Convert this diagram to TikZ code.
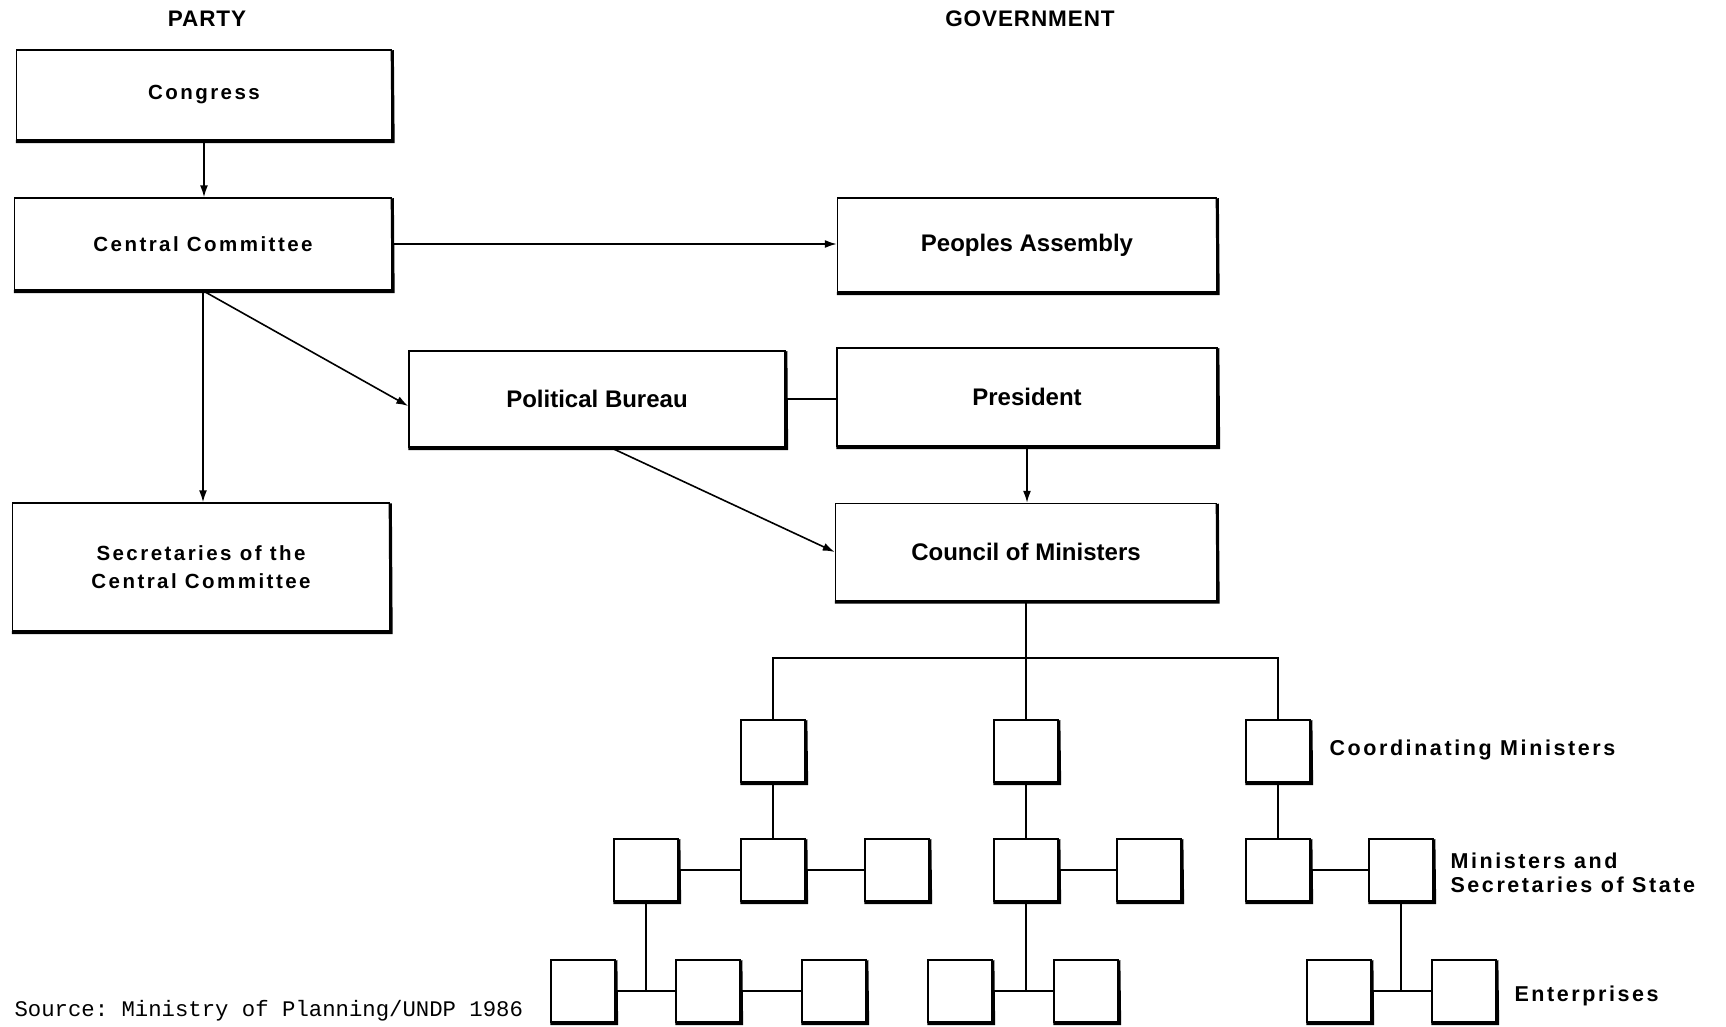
\documentclass[tikz,border=0pt]{standalone}
\usepackage{fontspec}
\setmainfont{Liberation Sans}
\setmonofont{Liberation Mono}
\newfontfamily\partyfont[LetterSpace=12]{Liberation Sans}
\newfontfamily\labelfont[LetterSpace=12]{Liberation Sans}
\newfontfamily\headfont[LetterSpace=4]{Liberation Sans}
\usetikzlibrary{arrows.meta,calc}
\begin{document}
\begin{tikzpicture}[x=1pt,y=-1pt,
  pbox/.style={draw, line width=1.5pt, inner sep=0pt, align=center,
    font=\fontsize{20.5}{28}\selectfont\partyfont\bfseries},
  gbox/.style={draw, line width=1.5pt, inner sep=0pt, align=center,
    font=\fontsize{24}{28}\selectfont\bfseries},
  sq/.style={draw, line width=1.5pt, minimum width=64pt, minimum height=62pt, inner sep=0pt},
  head/.style={font=\fontsize{22.5}{26}\selectfont\headfont\bfseries},
  lab/.style={anchor=west, align=left, font=\fontsize{21.5}{24}\selectfont\labelfont\bfseries},
  arr/.style={line width=1.6pt, -{Latex[length=12pt,width=8pt]}},
  ln/.style={line width=1.6pt},
  hln/.style={line width=2.8pt}
]
\useasboundingbox (0,0) rectangle (1726,1026);

% headers
\node[head] (hparty) at (207,19) {PARTY};
\node[head] (hgov) at (1030,19) {GOVERNMENT};

% party boxes
\node[pbox, minimum width=375pt, minimum height=90pt] (congress) at (204,95) {Congress};
\node[pbox, minimum width=377pt, minimum height=92pt] (cc) at (203,244) {Central Committee};
\node[pbox, minimum width=377pt, minimum height=128pt] (sec) at (201,567) {Secretaries of the\\Central Committee};
\node[gbox, minimum width=376pt, minimum height=96pt] (pb) at (597,399) {Political Bureau};

% government boxes
\node[gbox, minimum width=379pt, minimum height=94pt] (pa) at (1027,245) {Peoples Assembly};
\node[gbox, minimum width=380pt, minimum height=98pt] (pres) at (1027,397) {President};
\node[gbox, minimum width=381pt, minimum height=97pt] (com) at (1026,552) {Council of Ministers};

% tree boxes
\node[sq] (c1) at (773,751) {};
\node[sq] (c2) at (1026,751) {};
\node[sq] (c3) at (1278,751) {};
\node[sq] (ma) at (646,870) {};
\node[sq] (mb) at (773,870) {};
\node[sq] (mc) at (897,870) {};
\node[sq] (md) at (1026,870) {};
\node[sq] (me) at (1149,870) {};
\node[sq] (mf) at (1278,870) {};
\node[sq] (mg) at (1401,870) {};
\node[sq] (eh) at (583,991) {};
\node[sq] (ei) at (708,991) {};
\node[sq] (ej) at (834,991) {};
\node[sq] (ek) at (960,991) {};
\node[sq] (el) at (1086,991) {};
\node[sq] (em) at (1339,991) {};
\node[sq] (en) at (1464,991) {};

% shadows (heavy bottom and right edges)
\foreach \n in {congress,cc,sec,pb,pa,pres,com,c1,c2,c3,ma,mb,mc,md,me,mf,mg,eh,ei,ej,ek,el,em,en}
  \draw[line width=3.2pt] ([yshift=-1pt]\n.north east) -- ([xshift=0.8pt,yshift=-0.8pt]\n.south east) -- ([yshift=-0.8pt]\n.south west);

% labels
\node[lab] (lcoord) at (1326,750) {Coordinating Ministers};
\node[lab] (lmin) at (1447,873) {Ministers and\\Secretaries of State};
\node[lab] (lent) at (1511,996) {Enterprises};
\node[anchor=west, font=\fontsize{22.3}{24}\selectfont\ttfamily] (src) at (11,1011) {Source: Ministry of Planning/UNDP 1986};

% party / government connectors
\draw[arr] (congress.south) -- (congress.south |- cc.north);
\draw[arr] (cc.east) -- (cc.east -| pa.west);
\draw[arr] (cc.south) -- (cc.south |- sec.north);
\draw[arr] (cc.south) -- ([yshift=-7pt]pb.west);
\draw[arr] ([xshift=14pt]pb.south) -- (com.west);
\draw[ln] (pb.east) -- (pb.east -| pres.west);
\draw[arr] (pres.south) -- (pres.south |- com.north);

% tree connectors
\coordinate (bus) at (1026,658);
\draw[ln] (com.south) -- (c2.north);
\draw[hln] (c1.north) |- (bus) -| (c3.north);
\draw[ln] (c1.south) -- (mb.north);
\draw[ln] (c2.south) -- (md.north);
\draw[ln] (c3.south) -- (mf.north);
\draw[hln] (ma.east) -- (mb.west);
\draw[hln] (mb.east) -- (mc.west);
\draw[hln] (md.east) -- (me.west);
\draw[hln] (mf.east) -- (mg.west);
\coordinate (j1) at (646,992);
\coordinate (j2) at (1026,992);
\coordinate (j3) at (1401,992);
\draw[ln] (ma.south) -- (j1);
\draw[ln] (md.south) -- (j2);
\draw[ln] (mg.south) -- (j3);
\draw[hln] (eh.east) -- (ei.west);
\draw[hln] (ei.east) -- (ej.west);
\draw[hln] (ek.east) -- (el.west);
\draw[hln] (em.east) -- (en.west);
\end{tikzpicture}
\end{document}
